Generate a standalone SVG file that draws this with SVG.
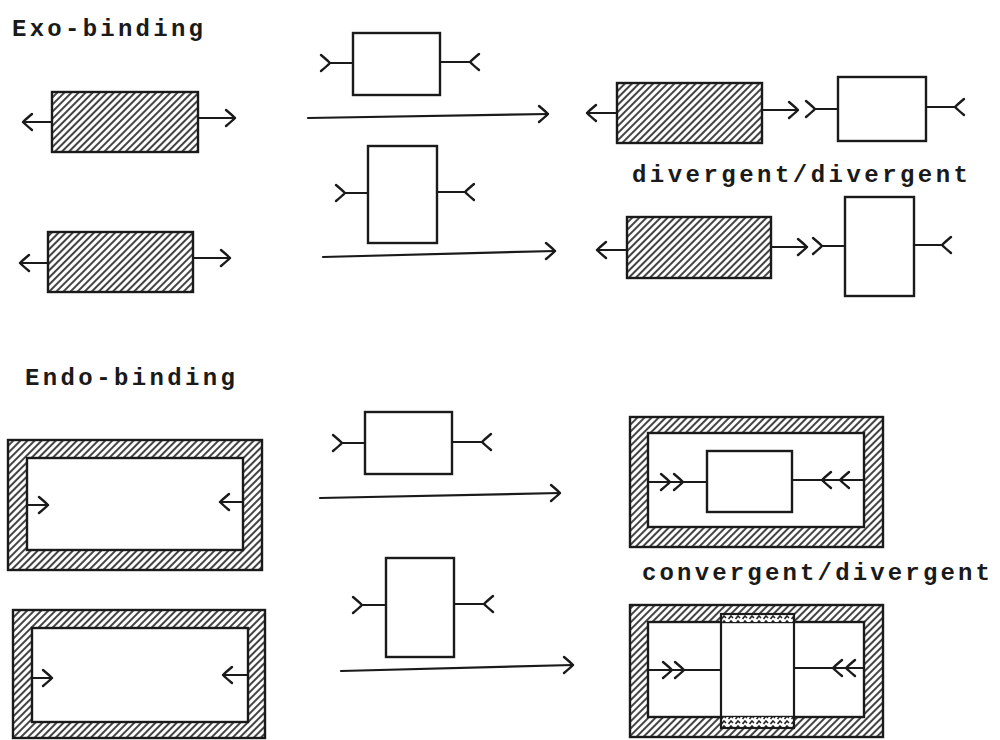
<svg xmlns="http://www.w3.org/2000/svg" xmlns:xlink="http://www.w3.org/1999/xlink" width="1000" height="740" viewBox="0 0 1000 740">
<style>
.ln{stroke:#1a1a1a;stroke-width:2.2;fill:none;stroke-linecap:round;stroke-linejoin:round}
.box{stroke:#1a1a1a;stroke-width:2.4;fill:#fff}
.hbox{stroke:#1a1a1a;stroke-width:2.4;fill:url(#hatch)}
.wall{stroke:#1a1a1a;stroke-width:2.4;fill:url(#hatch)}
.inner{stroke:#1a1a1a;stroke-width:2.4;fill:#fff}
.lbl{font-family:"Liberation Mono","DejaVu Sans Mono",monospace;font-weight:bold;font-size:24px;fill:#1a1a1a}
</style>
<defs>
<pattern id="hatch" patternUnits="userSpaceOnUse" width="5" height="5" patternTransform="rotate(45)">
<rect width="5" height="5" fill="#fff"/>
<line x1="1" y1="0" x2="1" y2="5" stroke="#222" stroke-width="1.7"/>
</pattern>
<pattern id="hatch2" patternUnits="userSpaceOnUse" width="7" height="5">
<rect width="7" height="5" fill="#fff"/>
<path d="M0.5,4 L3,1 L5,3" stroke="#222" stroke-width="1.6" fill="none"/>
</pattern>
<path id="chev" d="M-9,-8 Q-3,-3 0,0 Q-3,3 -9,8" fill="none" stroke="#1a1a1a" stroke-width="2.4" stroke-linecap="round" stroke-linejoin="round"/>
</defs>
<rect width="1000" height="740" fill="#fff"/>

<text class="lbl" x="12" y="36" textLength="191" lengthAdjust="spacing">Exo-binding</text>
<text class="lbl" x="25" y="385" textLength="210" lengthAdjust="spacing">Endo-binding</text>
<text class="lbl" x="632" y="182" textLength="336" lengthAdjust="spacing">divergent/divergent</text>
<text class="lbl" x="642" y="580" textLength="348" lengthAdjust="spacing">convergent/divergent</text>

<g id="exo1-host">
<rect class="hbox" x="52" y="92" width="146" height="60"/>
<line class="ln" x1="52" y1="122" x2="23" y2="122"/>
<use xlink:href="#chev" href="#chev" transform="translate(23,122) scale(-1,1)"/>
<line class="ln" x1="198" y1="118" x2="235" y2="118"/>
<use xlink:href="#chev" href="#chev" transform="translate(235,118)"/>
</g>
<g id="exo1-guest">
<rect class="box" x="353" y="33" width="87" height="62"/>
<line class="ln" x1="330" y1="63" x2="353" y2="63"/>
<use xlink:href="#chev" href="#chev" transform="translate(330,63)"/>
<line class="ln" x1="440" y1="62" x2="470" y2="62"/>
<use xlink:href="#chev" href="#chev" transform="translate(470,62) scale(-1,1)"/>
</g>
<g id="exo1-result">
<rect class="hbox" x="617" y="83" width="145" height="60"/>
<line class="ln" x1="617" y1="113" x2="587" y2="113"/>
<use xlink:href="#chev" href="#chev" transform="translate(587,113) scale(-1,1)"/>
<line class="ln" x1="762" y1="110" x2="798" y2="110"/>
<use xlink:href="#chev" href="#chev" transform="translate(798,110)"/>
<use xlink:href="#chev" href="#chev" transform="translate(815,109)"/>
<line class="ln" x1="815" y1="109" x2="838" y2="109"/>
<rect class="box" x="838" y="77" width="88" height="64"/>
<line class="ln" x1="926" y1="107" x2="955" y2="107"/>
<use xlink:href="#chev" href="#chev" transform="translate(955,107) scale(-1,1)"/>
</g>

<g id="exo2-host">
<rect class="hbox" x="48" y="232" width="145" height="60"/>
<line class="ln" x1="48" y1="263" x2="20" y2="263"/>
<use xlink:href="#chev" href="#chev" transform="translate(20,263) scale(-1,1)"/>
<line class="ln" x1="193" y1="258" x2="230" y2="258"/>
<use xlink:href="#chev" href="#chev" transform="translate(230,258)"/>
</g>
<g id="exo2-guest">
<rect class="box" x="368" y="146" width="69" height="97"/>
<line class="ln" x1="345" y1="193" x2="368" y2="193"/>
<use xlink:href="#chev" href="#chev" transform="translate(345,193)"/>
<line class="ln" x1="437" y1="192" x2="465" y2="192"/>
<use xlink:href="#chev" href="#chev" transform="translate(465,192) scale(-1,1)"/>
</g>
<g id="exo2-result">
<rect class="hbox" x="627" y="217" width="144" height="61"/>
<line class="ln" x1="627" y1="250" x2="597" y2="250"/>
<use xlink:href="#chev" href="#chev" transform="translate(597,250) scale(-1,1)"/>
<line class="ln" x1="771" y1="247" x2="807" y2="247"/>
<use xlink:href="#chev" href="#chev" transform="translate(807,247)"/>
<use xlink:href="#chev" href="#chev" transform="translate(822,246)"/>
<line class="ln" x1="822" y1="246" x2="845" y2="246"/>
<rect class="box" x="845" y="197" width="69" height="99"/>
<line class="ln" x1="914" y1="245" x2="942" y2="245"/>
<use xlink:href="#chev" href="#chev" transform="translate(942,245) scale(-1,1)"/>
</g>

<g id="endo1-host">
<rect class="wall" x="8" y="440" width="254" height="130"/>
<rect class="inner" x="27" y="458" width="216" height="92"/>
<line class="ln" x1="27" y1="505" x2="48" y2="505"/>
<use xlink:href="#chev" href="#chev" transform="translate(48,505)"/>
<line class="ln" x1="243" y1="502" x2="220" y2="502"/>
<use xlink:href="#chev" href="#chev" transform="translate(220,502) scale(-1,1)"/>
</g>
<g id="endo1-guest">
<rect class="box" x="365" y="412" width="87" height="62"/>
<line class="ln" x1="342" y1="443" x2="365" y2="443"/>
<use xlink:href="#chev" href="#chev" transform="translate(342,443)"/>
<line class="ln" x1="452" y1="442" x2="482" y2="442"/>
<use xlink:href="#chev" href="#chev" transform="translate(482,442) scale(-1,1)"/>
</g>
<g id="endo1-result">
<rect class="wall" x="630" y="417" width="253" height="130"/>
<rect class="inner" x="648" y="433" width="216" height="94"/>
<line class="ln" x1="648" y1="482" x2="707" y2="482"/>
<use xlink:href="#chev" href="#chev" transform="translate(670,482)"/>
<use xlink:href="#chev" href="#chev" transform="translate(683,482)"/>
<rect class="box" x="707" y="451" width="85" height="61"/>
<line class="ln" x1="792" y1="480" x2="864" y2="480"/>
<use xlink:href="#chev" href="#chev" transform="translate(822,480) scale(-1,1)"/>
<use xlink:href="#chev" href="#chev" transform="translate(840,480) scale(-1,1)"/>
</g>

<g id="endo2-host">
<rect class="wall" x="13" y="610" width="252" height="128"/>
<rect class="inner" x="32" y="628" width="216" height="94"/>
<line class="ln" x1="32" y1="678" x2="52" y2="678"/>
<use xlink:href="#chev" href="#chev" transform="translate(52,678)"/>
<line class="ln" x1="248" y1="675" x2="223" y2="675"/>
<use xlink:href="#chev" href="#chev" transform="translate(223,675) scale(-1,1)"/>
</g>
<g id="endo2-guest">
<rect class="box" x="386" y="558" width="68" height="99"/>
<line class="ln" x1="362" y1="605" x2="386" y2="605"/>
<use xlink:href="#chev" href="#chev" transform="translate(362,605)"/>
<line class="ln" x1="454" y1="604" x2="484" y2="604"/>
<use xlink:href="#chev" href="#chev" transform="translate(484,604) scale(-1,1)"/>
</g>
<g id="endo2-result">
<rect class="wall" x="630" y="605" width="253" height="132"/>
<rect class="inner" x="648" y="622" width="216" height="95"/>
<rect x="721" y="614" width="73" height="8" fill="url(#hatch2)"/>
<rect x="721" y="717" width="73" height="11" fill="url(#hatch2)"/>
<rect x="721" y="614" width="73" height="114" fill="none" stroke="#1a1a1a" stroke-width="2.2"/>
<line class="ln" x1="648" y1="670" x2="721" y2="670"/>
<use xlink:href="#chev" href="#chev" transform="translate(672,670)"/>
<use xlink:href="#chev" href="#chev" transform="translate(684,670)"/>
<line class="ln" x1="794" y1="668" x2="864" y2="668"/>
<use xlink:href="#chev" href="#chev" transform="translate(833,668) scale(-1,1)"/>
<use xlink:href="#chev" href="#chev" transform="translate(846,668) scale(-1,1)"/>
</g>

<g id="connectors">
<line class="ln" x1="308" y1="118" x2="548" y2="114"/>
<use xlink:href="#chev" href="#chev" transform="translate(548,114)"/>
<line class="ln" x1="323" y1="257" x2="555" y2="251"/>
<use xlink:href="#chev" href="#chev" transform="translate(555,251)"/>
<line class="ln" x1="320" y1="498" x2="560" y2="493"/>
<use xlink:href="#chev" href="#chev" transform="translate(560,493)"/>
<line class="ln" x1="341" y1="671" x2="573" y2="665"/>
<use xlink:href="#chev" href="#chev" transform="translate(573,665)"/>
</g>
</svg>
